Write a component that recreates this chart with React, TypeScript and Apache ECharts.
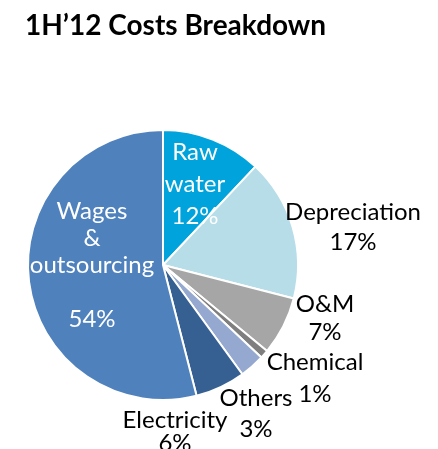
import React, { useEffect, useRef } from "react";
import * as echarts from "echarts";

const categories = ["Raw water", "Depreciation", "O&M", "Chemical", "Others", "Electricity", "Wages & outsourcing"];
const labelTexts = ["Raw\nwater\n12%", "Depreciation\n17%", "O&M\n7%", "Chemical\n1%", "Others\n3%", "Electricity\n6%", "Wages\n&\noutsourcing\n\n54%"];
const values = [12, 17, 7, 1, 3, 6, 54];
const colors = ["#00A3DB", "#B6DDE8", "#A6A6A6", "#7F7F7F", "#95A8D0", "#366092", "#4F81BD"];
const labelColors = ["#ffffff", "#000000", "#000000", "#000000", "#000000", "#000000", "#ffffff"];
const labelPos = [
  [195, 182, 32],
  [353, 225, 30],
  [325, 316, 28],
  [315, 376, 32],
  [256, 412, 31],
  [175, 430, 23],
  [92, 263, 27],
];
const FONT = "Lato";

export default function App() {
  const ref = useRef<HTMLDivElement>(null);
  useEffect(() => {
    const chart = echarts.init(ref.current!, null, { renderer: "svg" });
    chart.setOption({
      animation: false,
      title: {
        text: "1H\u201912 Costs Breakdown",
        left: 20,
        top: 5,
        textStyle: { fontFamily: FONT, fontSize: 28, fontWeight: "bold", color: "#000" },
      },
      series: [
        {
          type: "pie",
          center: [163, 265],
          radius: 135,
          startAngle: 90,
          clockwise: true,
          avoidLabelOverlap: false,
          itemStyle: { borderColor: "#fff", borderWidth: 2 },
          labelLine: { show: false },
          label: { show: true, position: "outside" },
          labelLayout: (p: any) => {
            const pos = labelPos[p.dataIndex];
            return { x: pos[0], y: pos[1], align: "center", verticalAlign: "middle", hideOverlap: false };
          },
          data: categories.map((c, i) => ({
            name: c,
            value: values[i],
            itemStyle: { color: colors[i] },
            label: {
              formatter: labelTexts[i],
              color: labelColors[i],
              fontFamily: FONT,
              fontSize: 24,
              lineHeight: labelPos[i][2],
              align: "center",
            },
          })),
        },
      ],
    });
    return () => chart.dispose();
  }, []);
  return <div ref={ref} style={{ position: "fixed", left: 0, top: 0, width: 438, height: 449 }} />;
}
